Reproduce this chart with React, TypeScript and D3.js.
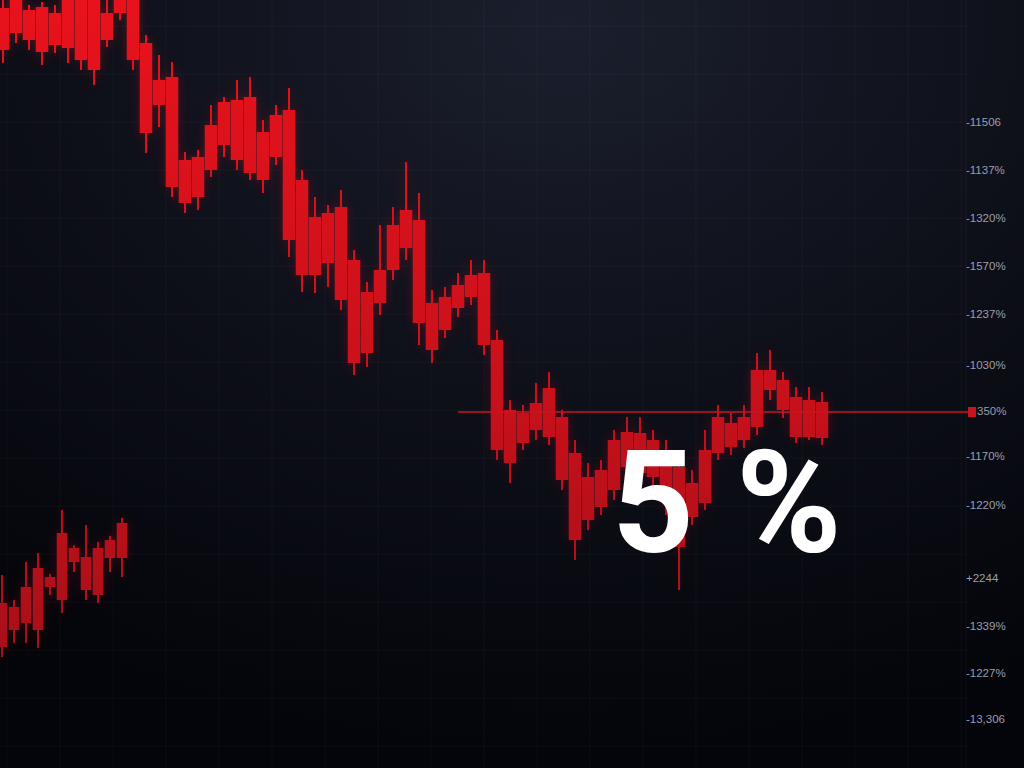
import React from "react";
import * as d3 from "d3";

// Depth values (points below peak; larger = lower on chart): [high, open, close, low]
const mainCandles: [number, number, number, number][] = [
  [-5, 8, 50, 63], [-15, -10, 33, 43], [5, 10, 40, 50], [2, 7, 52, 65],
  [5, 13, 45, 53], [-10, -5, 48, 63], [-15, -10, 60, 70], [-5, 0, 70, 85],
  [0, 13, 40, 47], [-15, -10, 13, 20], [-20, -15, 60, 70], [35, 43, 133, 153],
  [55, 80, 105, 127], [62, 77, 187, 197], [152, 160, 203, 213], [150, 157, 197, 210],
  [105, 125, 170, 177], [97, 102, 145, 157], [80, 100, 160, 170], [77, 97, 173, 180],
  [120, 132, 180, 193], [105, 115, 157, 165], [88, 110, 240, 257], [170, 180, 275, 292],
  [197, 217, 275, 293], [205, 213, 263, 287], [190, 207, 300, 310], [250, 260, 363, 375],
  [282, 292, 353, 367], [225, 270, 303, 315], [207, 225, 270, 280], [162, 210, 248, 260],
  [193, 220, 323, 345], [290, 303, 350, 363], [287, 297, 330, 338], [273, 285, 308, 317],
  [260, 275, 297, 305], [260, 273, 345, 355], [330, 340, 450, 460], [400, 410, 463, 483],
  [405, 413, 443, 450], [383, 403, 430, 440], [372, 388, 437, 445], [410, 417, 480, 490],
  [440, 453, 540, 560], [463, 477, 520, 530], [460, 470, 507, 515], [430, 440, 490, 500],
  [417, 432, 467, 475], [417, 433, 473, 480], [430, 440, 477, 485], [440, 455, 500, 515],
  [460, 467, 547, 590], [470, 483, 517, 525], [430, 450, 503, 510], [405, 417, 453, 460],
  [413, 423, 447, 455], [405, 417, 440, 448], [353, 370, 427, 435], [350, 370, 390, 400],
  [372, 380, 410, 418], [387, 397, 437, 443], [387, 400, 437, 440], [392, 402, 438, 445],
];

const lowerCandles: [number, number, number, number][] = [
  [575, 603, 647, 657], [600, 607, 630, 643], [562, 587, 623, 643], [553, 568, 630, 648],
  [574, 577, 587, 595], [510, 533, 600, 613], [545, 548, 562, 572], [525, 557, 590, 600],
  [542, 548, 595, 603], [536, 540, 558, 572], [518, 523, 558, 577],
];

const tickValues = [122, 170, 218, 266, 314, 365, 411, 456, 505, 578, 626, 673, 719];
const tickLabels = [
  "-11506", "-1137%", "-1320%", "-1570%", "-1237%", "-1030%", "350%",
  "-1170%", "-1220%", "+2244", "-1339%", "-1227%", "-13,306",
];
const levelValue = 412;
const levelStartIndex = 35;
const headline = "5%";

const W = 1024;
const H = 768;

export default function App() {
  const y = d3.scaleLinear().domain([0, 768]).range([0, 768]);
  const xMain = d3.scaleLinear().domain([0, mainCandles.length - 1]).range([3, 822]);
  const xLower = d3.scaleLinear().domain([0, lowerCandles.length - 1]).range([2, 122]);
  const axisX = 966;
  const gridX = d3.range(7, 962, 53);
  const gridY = d3.range(26, 768, 48);

  const renderCandles = (
    data: [number, number, number, number][],
    x: d3.ScaleLinear<number, number>,
    bw: number,
    key: string
  ) =>
    data.map((d, i) => {
      const [hi, o, c, lo] = d;
      const cx = x(i);
      return (
        <g key={key + i}>
          <line x1={cx} x2={cx} y1={y(hi)} y2={y(lo)} stroke="url(#candleGrad)" strokeWidth={2} />
          <rect
            x={cx - bw / 2}
            y={y(Math.min(o, c))}
            width={bw}
            height={Math.max(1, y(Math.max(o, c)) - y(Math.min(o, c)))}
            fill="url(#candleGrad)"
          />
        </g>
      );
    });

  return (
    <svg
      width={W}
      height={H}
      style={{ position: "absolute", left: 0, top: 0, display: "block" }}
    >
      <defs>
        <radialGradient id="bg" cx="55%" cy="4%" r="95%">
          <stop offset="0%" stopColor="#1b1f2d" />
          <stop offset="45%" stopColor="#0f111b" />
          <stop offset="100%" stopColor="#04050a" />
        </radialGradient>
        <linearGradient id="candleGrad" gradientUnits="userSpaceOnUse" x1="0" y1="0" x2="0" y2="700">
          <stop offset="0%" stopColor="#e8121c" />
          <stop offset="50%" stopColor="#cc111b" />
          <stop offset="100%" stopColor="#a30f19" />
        </linearGradient>
        <filter id="glow" x="-20%" y="-20%" width="140%" height="140%">
          <feGaussianBlur stdDeviation="6" />
        </filter>
      </defs>
      <rect x={0} y={0} width={W} height={H} fill="url(#bg)" />
      <g stroke="#ffffff" strokeOpacity={0.035} strokeWidth={1}>
        {gridX.map((gx) => (
          <line key={"gx" + gx} x1={gx} x2={gx} y1={0} y2={H} />
        ))}
        {gridY.map((gy) => (
          <line key={"gy" + gy} x1={0} x2={axisX} y1={gy} y2={gy} />
        ))}
      </g>
      <line x1={axisX} x2={axisX} y1={0} y2={H} stroke="#ffffff" strokeOpacity={0.05} />
      <g filter="url(#glow)" opacity={0.3}>
        {renderCandles(mainCandles, xMain, 12.5, "gm")}
        {renderCandles(lowerCandles, xLower, 10.5, "gl")}
      </g>
      <g>
        {renderCandles(mainCandles, xMain, 12.5, "m")}
        {renderCandles(lowerCandles, xLower, 10.5, "l")}
      </g>
      <line
        x1={xMain(levelStartIndex)}
        x2={axisX + 2}
        y1={y(levelValue)}
        y2={y(levelValue)}
        stroke="#c8141e"
        strokeWidth={1.5}
      />
      <rect x={axisX + 2} y={y(levelValue) - 5} width={8} height={10} fill="#c8141e" />
      <g fontFamily="'Liberation Sans', 'DejaVu Sans', sans-serif" fontSize={11.5} fill="#9b9eab">
        {tickValues.map((v, i) => (
          <text
            key={"t" + i}
            x={tickLabels[i].startsWith("3") ? axisX + 11 : axisX}
            y={y(v)}
            dy="0.35em"
          >
            {tickLabels[i]}
          </text>
        ))}
      </g>
      <text
        x={612}
        y={552}
        fontFamily="Roboto, 'Noto Sans', sans-serif"
        fontWeight={700}
        fontSize={143}
        letterSpacing={42}
        fill="#ffffff"
      >
        {headline}
      </text>
    </svg>
  );
}
